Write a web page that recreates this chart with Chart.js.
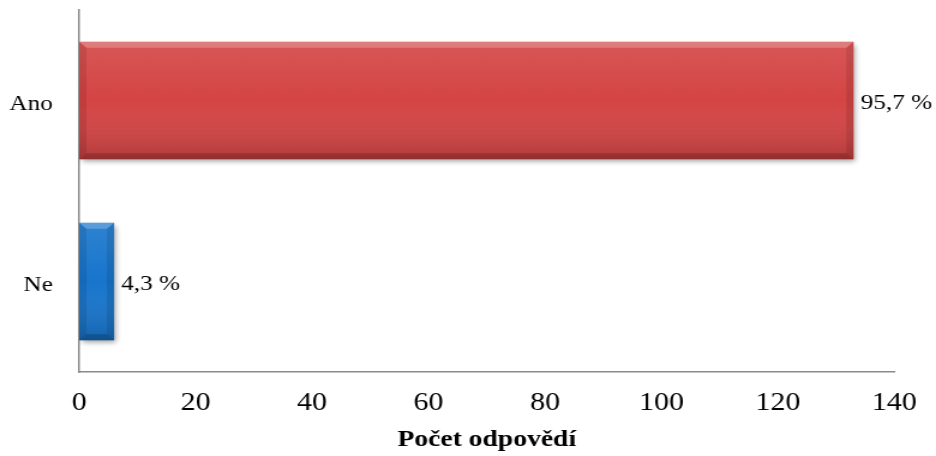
<!DOCTYPE html>
<html>
<head>
<meta charset="utf-8">
<script src="https://cdn.jsdelivr.net/npm/chart.js@4.4.1/dist/chart.umd.min.js"></script>
<style>
  html, body { margin: 0; padding: 0; background: #fff; overflow: hidden; }
  /* graf je kreslený užší a roztažený do šířky, jako písmo v původním exportu */
  #obal { width: 780px; height: 456px; transform: scaleX(1.2); transform-origin: 0 0; }
</style>
</head>
<body>
<div id="obal"><canvas id="grafOdpovedi" width="780" height="456"></canvas></div>
<script>
const kategorie = ["Ano", "Ne"];
const pocty = [133, 6];
const barvy = ["#d44444", "#1775cc"];
const hodnotyOsy = [0, 20, 40, 60, 80, 100, 120, 140];

const PISMO = '"Liberation Serif", "Times New Roman", serif';
const celkem = pocty.reduce((a, b) => a + b, 0);

function procenta(v) {
  return ((v / celkem) * 100).toFixed(1).replace(".", ",") + " %";
}

// stín pod sloupci + zkosené hrany + popisky s procenty
const plastickeSloupce = {
  id: "plastickeSloupce",
  beforeDatasetsDraw(chart) {
    const ctx = chart.ctx;
    ctx.save();
    ctx.shadowColor = "rgba(0,0,0,0.35)";
    ctx.shadowBlur = 5;
    ctx.shadowOffsetX = 2;
    ctx.shadowOffsetY = 3;
  },
  afterDatasetsDraw(chart) {
    const ctx = chart.ctx;
    ctx.restore();
    const meta = chart.getDatasetMeta(0);
    meta.data.forEach((el, i) => {
      const x0 = Math.min(el.base, el.x);
      const x1 = Math.max(el.base, el.x);
      const y0 = el.y - el.height / 2;
      const y1 = el.y + el.height / 2;
      const b = Math.min(6, (x1 - x0) / 3);

      ctx.save();
      // svislý přechod přes celý sloupec
      const g = ctx.createLinearGradient(0, y0, 0, y1);
      g.addColorStop(0, "rgba(255,255,255,0.10)");
      g.addColorStop(0.5, "rgba(255,255,255,0)");
      g.addColorStop(1, "rgba(0,0,0,0.16)");
      ctx.fillStyle = g;
      ctx.fillRect(x0, y0, x1 - x0, y1 - y0);

      // horní hrana světlejší
      ctx.fillStyle = "rgba(255,255,255,0.22)";
      ctx.beginPath();
      ctx.moveTo(x0, y0); ctx.lineTo(x1, y0);
      ctx.lineTo(x1 - b, y0 + b); ctx.lineTo(x0 + b, y0 + b);
      ctx.closePath(); ctx.fill();
      // spodní hrana tmavší
      ctx.fillStyle = "rgba(0,0,0,0.18)";
      ctx.beginPath();
      ctx.moveTo(x0, y1); ctx.lineTo(x1, y1);
      ctx.lineTo(x1 - b, y1 - b); ctx.lineTo(x0 + b, y1 - b);
      ctx.closePath(); ctx.fill();
      // boční hrany
      ctx.fillStyle = "rgba(0,0,0,0.10)";
      ctx.beginPath();
      ctx.moveTo(x0, y0); ctx.lineTo(x0 + b, y0 + b);
      ctx.lineTo(x0 + b, y1 - b); ctx.lineTo(x0, y1);
      ctx.closePath(); ctx.fill();
      ctx.beginPath();
      ctx.moveTo(x1, y0); ctx.lineTo(x1 - b, y0 + b);
      ctx.lineTo(x1 - b, y1 - b); ctx.lineTo(x1, y1);
      ctx.closePath(); ctx.fill();
      ctx.restore();

      ctx.save();
      ctx.font = "21px " + PISMO;
      ctx.fillStyle = "#000";
      ctx.textAlign = "left";
      ctx.textBaseline = "middle";
      ctx.fillText(procenta(pocty[i]), x1 + 6, el.y + 3);
      ctx.restore();
    });
  },
};

new Chart(document.getElementById("grafOdpovedi"), {
  type: "bar",
  data: {
    labels: kategorie,
    datasets: [
      {
        data: pocty,
        backgroundColor: barvy,
        borderWidth: 0,
        barPercentage: 0.65,
        categoryPercentage: 1,
      },
    ],
  },
  options: {
    indexAxis: "y",
    responsive: false,
    animation: false,
    layout: { padding: { top: 10, right: 13, left: 0, bottom: 2 } },
    plugins: {
      legend: { display: false },
      tooltip: { enabled: false },
    },
    scales: {
      x: {
        min: hodnotyOsy[0],
        max: hodnotyOsy[hodnotyOsy.length - 1],
        grid: { display: false, drawTicks: false },
        border: { display: true, color: "#8a8a8a", width: 1.5 },
        ticks: {
          stepSize: hodnotyOsy[1] - hodnotyOsy[0],
          color: "#000",
          padding: 16,
          maxRotation: 0,
          font: { family: PISMO, size: 25 },
        },
        title: {
          display: true,
          text: "Počet odpovědí",
          color: "#000",
          padding: { top: 0, bottom: 0 },
          font: { family: PISMO, size: 23, weight: "bold" },
        },
        afterFit(scale) {
          scale.height = 82;
        },
      },
      y: {
        grid: { display: false, drawTicks: false },
        border: { display: true, color: "#8a8a8a", width: 1.5 },
        ticks: {
          color: "#000",
          padding: 22,
          labelOffset: 4,
          font: { family: PISMO, size: 21 },
        },
        afterFit(scale) {
          scale.width = 66;
          scale.paddingTop = 0;
          scale.paddingBottom = 0;
        },
      },
    },
  },
  plugins: [plastickeSloupce],
});
</script>
</body>
</html>
